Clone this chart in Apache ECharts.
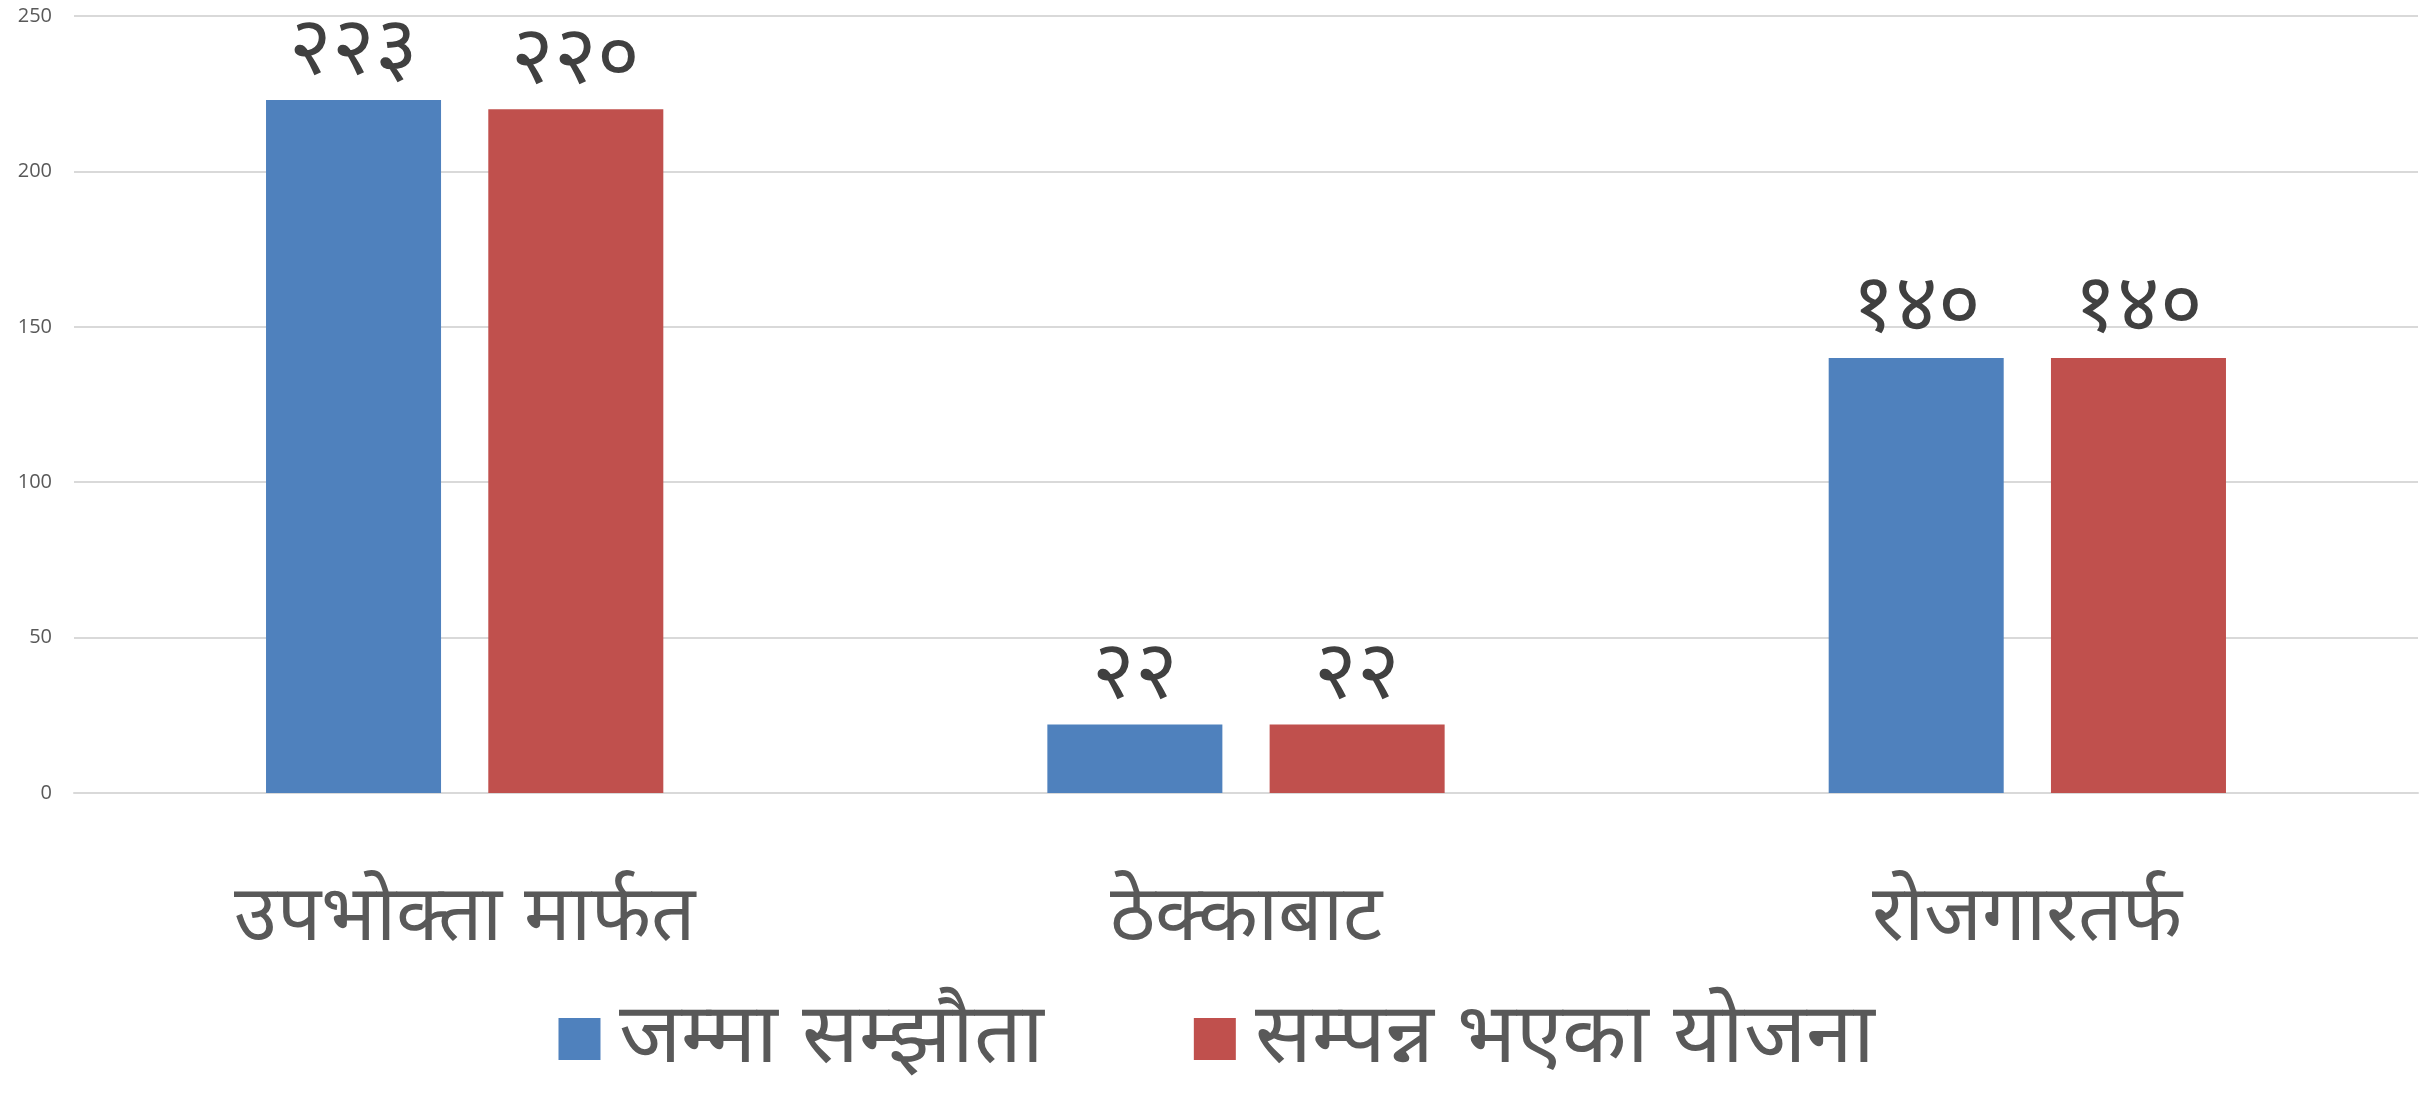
<!DOCTYPE html>
<html>
<head>
<meta charset="utf-8">
<script src="https://cdn.jsdelivr.net/npm/echarts@6/dist/echarts.min.js"></script>
<style>
  html, body { margin: 0; padding: 0; background: #fff; }
  #main { width: 2433px; height: 1094px; }
</style>
</head>
<body>
<div id="main"></div>
<script>
// categories and series
var categories = ['उपभोक्ता मार्फत', 'ठेक्काबाट', 'रोजगारतर्फ'];
var seriesNames = ['जम्मा सम्झौता', 'सम्पन्न भएका योजना'];
var totalAgreements = [223, 22, 140];
var completedPlans = [220, 22, 140];
var yTicks = [0, 50, 100, 150, 200, 250];

// अंकलाई देवनागरीमा बदल्ने
var devDigits = ['०', '१', '२', '३', '४', '५', '६', '७', '८', '९'];
function toDev(n) {
    return String(n).replace(/[0-9]/g, function (d) { return devDigits[+d]; });
}

var myChart = echarts.init(document.getElementById('main'));

var labelStyle = {
    show: true,
    position: 'top',
    distance: 8,
    color: '#404040',
    fontSize: 82,
    formatter: function (p) { return toDev(p.value); }
};

myChart.setOption({
    animation: false,
    color: ['#4F81BD', '#C0504D'],
    grid: { left: 74, right: 15, top: 16, bottom: 301 },
    legend: {
        data: seriesNames,
        top: 992,
        left: 'center',
        itemWidth: 42,
        itemHeight: 42,
        itemGap: 150,
        icon: 'rect',
        textStyle: { color: '#595959', fontSize: 84, padding: [0, 0, 0, 14] }
    },
    xAxis: {
        type: 'category',
        data: categories,
        axisLine: { lineStyle: { color: '#D9D9D9', width: 2 } },
        axisTick: { show: false },
        axisLabel: { color: '#595959', fontSize: 78, margin: 86 }
    },
    yAxis: {
        type: 'value',
        min: yTicks[0],
        max: yTicks[yTicks.length - 1],
        interval: 50,
        axisLine: { show: false },
        axisTick: { show: false },
        splitLine: { lineStyle: { color: '#D9D9D9', width: 2 } },
        axisLabel: { color: '#595959', fontSize: 20, margin: 22, fontFamily: 'Open Sans' }
    },
    series: [
        {
            name: seriesNames[0],
            type: 'bar',
            data: totalAgreements,
            barWidth: '22.4%',
            barGap: '27%',
            label: labelStyle
        },
        {
            name: seriesNames[1],
            type: 'bar',
            data: completedPlans,
            barWidth: '22.4%',
            barGap: '27%',
            label: labelStyle
        }
    ]
});
</script>
</body>
</html>
